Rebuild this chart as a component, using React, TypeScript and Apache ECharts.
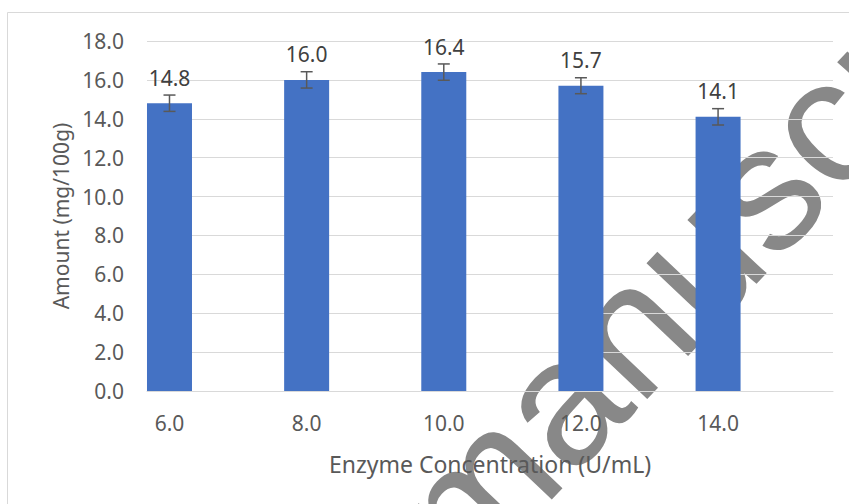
import React, { useEffect, useRef } from "react";
import * as echarts from "echarts";

const concentrations = [6.0, 8.0, 10.0, 12.0, 14.0];
const amounts = [14.8, 16.0, 16.4, 15.7, 14.1];
const errors = [0.42, 0.42, 0.42, 0.41, 0.42];
const yAxisTitle = "Amount (mg/100g)";
const xAxisTitle = "Enzyme Concentration (U/mL)";
const watermarkText = "manuscript";

const FONT = "Noto Sans";

export default function App() {
  const ref = useRef<HTMLDivElement>(null);
  useEffect(() => {
    if (!ref.current) return;
    const chart = echarts.init(ref.current, null, { renderer: "svg" });
    const theta = (46.5 * Math.PI) / 180;
    chart.setOption({
      animation: false,
      backgroundColor: "#ffffff",
      grid: { left: 147, right: 16, top: 41, bottom: 113, containLabel: false },
      graphic: [
        {
          type: "text",
          x: 424,
          y: 545,
          rotation: theta,
          z: -10,
          silent: true,
          style: {
            text: watermarkText,
            fontSize: 178,
            fontFamily: "Liberation Sans",
            fill: "#888888",
            align: "left",
            verticalAlign: "middle",
          },
        },
        {
          type: "rect",
          z: -5,
          silent: true,
          shape: { x: 7.5, y: 12.5, width: 900, height: 600 },
          style: { fill: "none", stroke: "#d9d9d9", lineWidth: 1 },
        },
      ],
      xAxis: {
        type: "value",
        min: 5.672,
        max: 15.676,
        splitLine: { show: false },
        axisLine: { show: true, lineStyle: { color: "#d9d9d9", width: 1 } },
        axisTick: { show: false },
        axisLabel: {
          color: "#595959",
          fontSize: 21,
          fontFamily: FONT,
          margin: 21,
          customValues: concentrations,
          formatter: (v: number) => v.toFixed(1),
        },
        name: xAxisTitle,
        nameLocation: "middle",
        nameGap: 61,
        nameTextStyle: { color: "#595959", fontSize: 23, fontFamily: FONT },
      },
      yAxis: {
        type: "value",
        min: 0,
        max: 18,
        interval: 2,
        axisLine: { show: false },
        axisTick: { show: false },
        splitLine: { lineStyle: { color: "#d9d9d9", width: 1 } },
        axisLabel: {
          color: "#595959",
          fontSize: 21,
          fontFamily: FONT,
          margin: 23,
          formatter: (v: number) => v.toFixed(1),
        },
        name: yAxisTitle,
        nameLocation: "middle",
        nameGap: 75,
        nameTextStyle: { color: "#595959", fontSize: 21, fontFamily: FONT },
      },
      series: [
        {
          type: "bar",
          data: concentrations.map((x, i) => [x, amounts[i]]),
          barWidth: 45,
          itemStyle: { color: "#4472C4" },
          label: {
            show: true,
            position: "top",
            distance: 15,
            color: "#404040",
            fontSize: 21,
            fontFamily: FONT,
            formatter: (p: any) => Number(p.value[1]).toFixed(1),
          },
        },
        {
          type: "custom",
          data: concentrations.map((x, i) => [x, amounts[i], errors[i]]),
          z: 5,
          renderItem: (params: any, api: any) => {
            const x = api.value(0);
            const v = api.value(1);
            const e = api.value(2);
            const top = api.coord([x, v + e]);
            const bot = api.coord([x, v - e]);
            const half = 6;
            const st = { stroke: "#595959", lineWidth: 1.5 };
            return {
              type: "group",
              children: [
                { type: "line", shape: { x1: top[0], y1: top[1], x2: bot[0], y2: bot[1] }, style: st },
                { type: "line", shape: { x1: top[0] - half, y1: top[1], x2: top[0] + half, y2: top[1] }, style: st },
                { type: "line", shape: { x1: bot[0] - half, y1: bot[1], x2: bot[0] + half, y2: bot[1] }, style: st },
              ],
            };
          },
        },
      ],
    });
    return () => chart.dispose();
  }, []);
  return (
    <div
      ref={ref}
      style={{ position: "absolute", left: 0, top: 0, width: 849, height: 504 }}
    />
  );
}
